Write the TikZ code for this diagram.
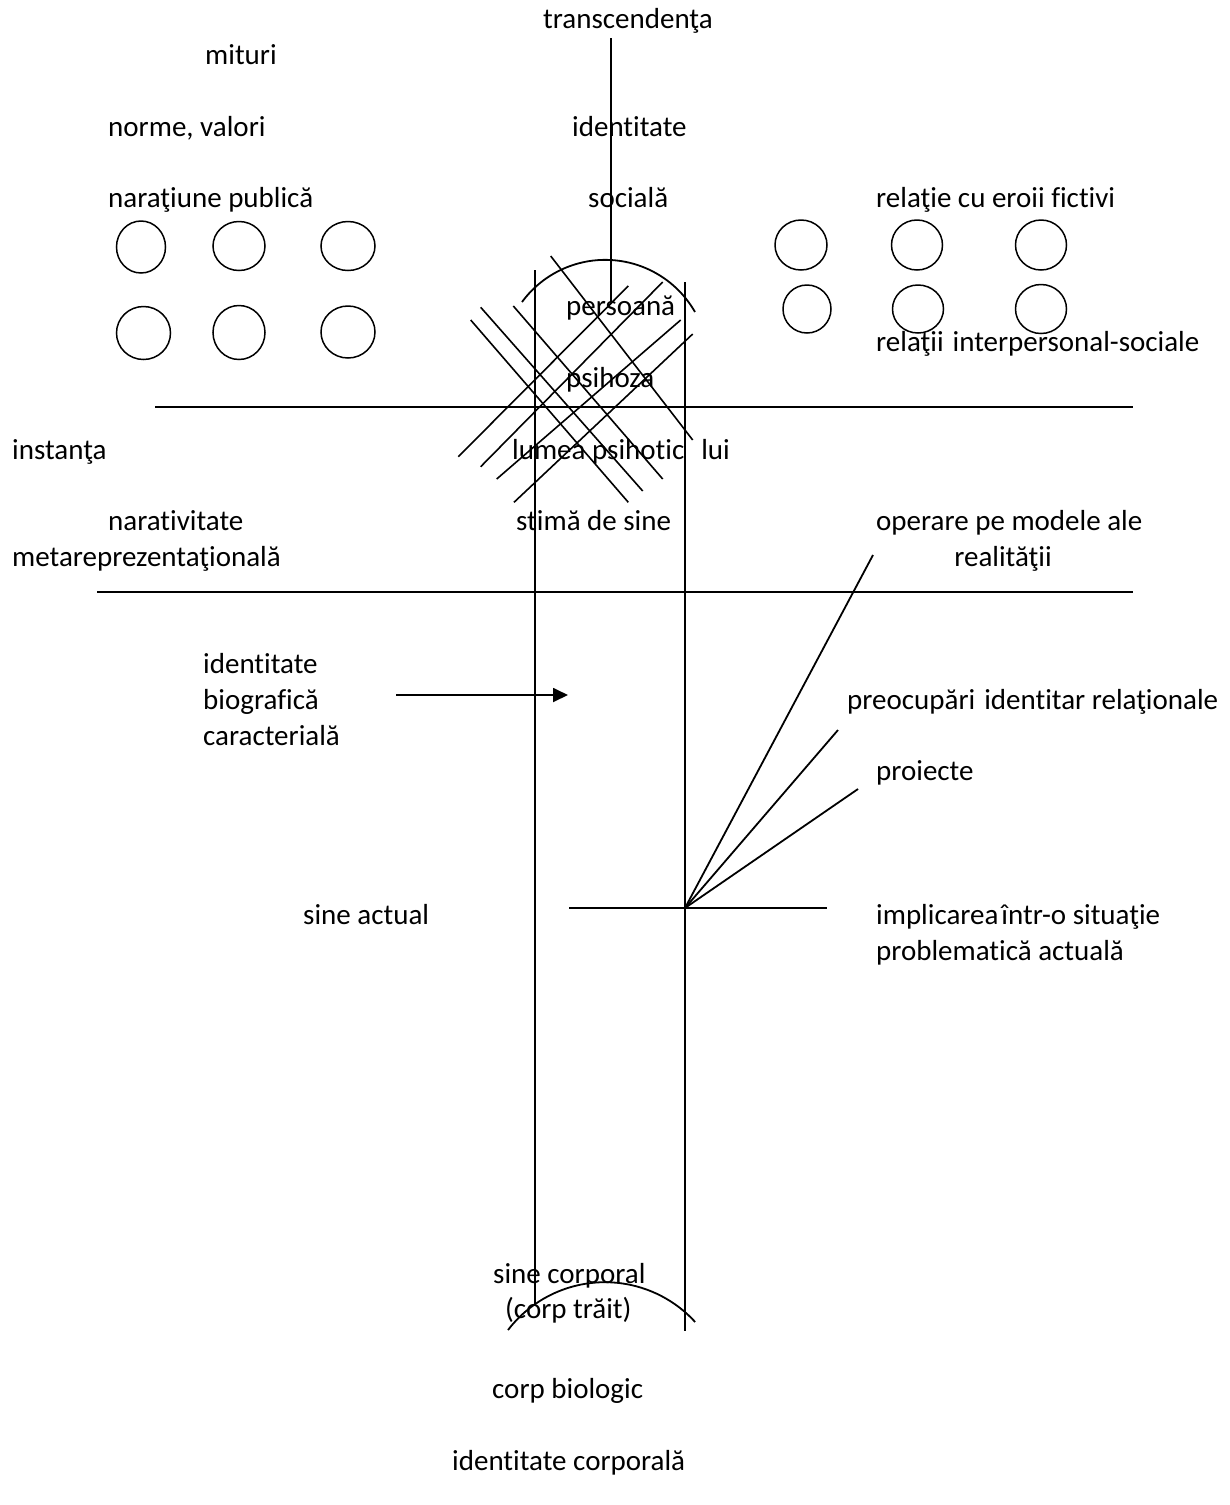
\documentclass[tikz,border=0pt]{standalone}
\usepackage{fontspec}
\setmainfont{Carlito}[Ligatures=NoCommon]
\usetikzlibrary{arrows.meta}
\tikzset{
  lbl/.style={inner sep=0pt, anchor=base west, font=\fontsize{29.0}{35.8}\selectfont},
  lblc/.style={inner sep=0pt, anchor=base, font=\fontsize{29.0}{35.8}\selectfont},
  ln/.style={line width=1.8pt},
  ring/.style={line width=1.5pt},
  hatch/.style={line width=1.6pt},
}
\begin{document}
\begin{tikzpicture}[x=1pt,y=-1pt]
\useasboundingbox[fill=white] (0,0) rectangle (1230,1505);

% ---- texts ----
\node[lbl] (transc) at (543,28) {transcenden\c{t}a};
\node[lbl] (mituri) at (205,64) {mituri};
\node[lbl] (norme) at (108,136) {norme, valori};
\node[lbl] (idsoc1) at (572,136) {identitate};
\node[lbl] (narpub) at (108,207) {naraţiune publică};
\node[lbl] (idsoc2) at (588,207) {socială};
\node[lbl] (eroi) at (876,207) {relaţie cu eroii fictivi};
\node[lbl] (pers) at (566,315) {persoană};
\node[lbl] (relint) at (876,351) {relaţii\hspace*{9pt}interpersonal-sociale};
\node[lbl] (psih) at (566,387) {psihoza};
\node[lbl] (inst) at (12,459) {instanţa};
\node[lbl] (lumea) at (512,459) {lumea psihotic\hspace*{17pt}lui};
\node[lbl] (narat) at (108,530) {narativitate};
\node[lbl] (stima) at (516,530) {stimă de sine};
\node[lbl] (oper) at (876,530) {operare pe modele ale};
\node[lbl] (meta) at (12,566) {metareprezentaţională};
\node[lblc] (real) at (1003,566) {realităţii};
\node[lbl] (idb1) at (203,673) {identitate};
\node[lbl] (idb2) at (203,709) {biografică};
\node[lbl] (idb3) at (203,745) {caracterială};
\node[lbl] (preoc) at (847,709) {preocupări\hspace*{9pt}identitar relaţionale};
\node[lbl] (proi) at (876,780) {proiecte};
\node[lbl] (sact) at (303,924) {sine actual};
\node[lbl] (impl1) at (876,924) {implicarea\hspace*{3pt}într-o situaţie};
\node[lbl] (impl2) at (876,960) {problematică actuală};
\node[lbl] (scorp) at (493,1283) {sine corporal};
\node[lbl] (ctrait) at (505,1318) {(corp trăit)};
\node[lbl] (cbio) at (492,1398) {corp biologic};
\node[lbl] (idcorp) at (452,1470) {identitate corporală};

% ---- circles left ----
\draw[ring] (141,247) ellipse[x radius=24.5, y radius=26];
\draw[ring] (239,246) ellipse[x radius=26, y radius=24.5];
\draw[ring] (348,246) ellipse[x radius=27, y radius=24.5];
\draw[ring] (143.5,333) ellipse[x radius=27, y radius=26.5];
\draw[ring] (239,332.5) ellipse[x radius=26, y radius=27];
\draw[ring] (348,332) ellipse[x radius=27, y radius=26];
% ---- circles right ----
\draw[ring] (801,245) ellipse[x radius=26, y radius=25];
\draw[ring] (917,245) ellipse[x radius=25.5, y radius=25];
\draw[ring] (1041,245) ellipse[x radius=25.5, y radius=25];
\draw[ring] (807,309) ellipse[x radius=24, y radius=24];
\draw[ring] (918,309) ellipse[x radius=25.5, y radius=24];
\draw[ring] (1041,309) ellipse[x radius=25.5, y radius=24.5];

% ---- main lines ----
\coordinate (tTop) at (611,38);
\coordinate (tBot) at (611,302);
\draw[ln] (tTop) -- (tBot);
\coordinate (arcL) at (522,302);
\draw[ln] (arcL) arc[start angle=-143.7, end angle=-29.7, radius=103.3];
\coordinate (vLt) at (535,270);
\coordinate (vLb) at (535,1304);
\coordinate (vRt) at (685,282);
\coordinate (vRb) at (685,1331);
\draw[ln] (vLt) -- (vLb);
\draw[ln] (vRt) -- (vRb);
\coordinate (barcL) at (508,1330);
\draw[ln] (barcL) arc[start angle=-142.5, end angle=-42.4, radius=122.2];

\coordinate (h1a) at (155,407);
\coordinate (h1b) at (1133,407);
\coordinate (h2a) at (97,592);
\coordinate (h2b) at (1133,592);
\draw[ln] (h1a) -- (h1b);
\draw[ln] (h2a) -- (h2b);

% ---- hatching ----
\draw[hatch] (470.7,320) -- (628.3,502.3);
\draw[hatch] (480.7,307.3) -- (642.7,491);
\draw[hatch] (513.3,306) -- (662.7,479);
\draw[hatch] (550.7,256) -- (692.7,440);
\draw[hatch] (628.3,286) -- (458.3,456.7);
\draw[hatch] (662.7,282) -- (480.7,466.7);
\draw[hatch] (680.7,320) -- (496.7,479);
\draw[hatch] (692.7,334) -- (514,502.3);

% ---- arrow ----
\coordinate (arA) at (396,695);
\coordinate (arB) at (568,695);
\draw[ln,-{Triangle[length=15pt,width=14pt]}] (arA) -- (arB);

% ---- fan ----
\coordinate (fan) at (685,908);
\coordinate (f1) at (873,555);
\coordinate (f2) at (838,730);
\coordinate (f3) at (858,789);
\coordinate (sa1) at (569,908);
\coordinate (sa2) at (827,908);
\draw[ln] (fan) -- (f1);
\draw[ln] (fan) -- (f2);
\draw[ln] (fan) -- (f3);
\draw[ln] (sa1) -- (sa2);
\end{tikzpicture}
\end{document}
